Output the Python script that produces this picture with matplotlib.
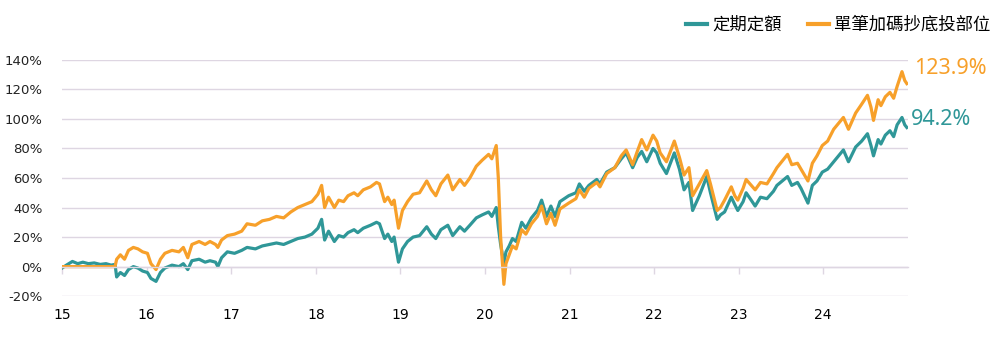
import matplotlib
matplotlib.use("Agg")
import matplotlib.pyplot as plt
import pandas as pd

dates = [
    "2015-01-01", "2015-01-20", "2015-02-15", "2015-03-10", "2015-04-01", "2015-04-25",
    "2015-05-20", "2015-06-15", "2015-07-10", "2015-08-01", "2015-08-18", "2015-08-25",
    "2015-09-10", "2015-09-28", "2015-10-15", "2015-11-05", "2015-11-25", "2015-12-15",
    "2016-01-05", "2016-01-20", "2016-02-11", "2016-03-01", "2016-03-20", "2016-04-20",
    "2016-05-20", "2016-06-08", "2016-06-27", "2016-07-15", "2016-08-15", "2016-09-10",
    "2016-10-01", "2016-10-25", "2016-11-04", "2016-11-20", "2016-12-15",
    "2017-01-15", "2017-02-15", "2017-03-10", "2017-04-15", "2017-05-15", "2017-06-15",
    "2017-07-15", "2017-08-15", "2017-09-15", "2017-10-15", "2017-11-15", "2017-12-15",
    "2018-01-10", "2018-01-26", "2018-02-08", "2018-02-25", "2018-03-22", "2018-04-10",
    "2018-05-01", "2018-05-20", "2018-06-15", "2018-07-01", "2018-07-25", "2018-08-25",
    "2018-09-20", "2018-10-03", "2018-10-25", "2018-11-08", "2018-11-25", "2018-12-05",
    "2018-12-24",
    "2019-01-10", "2019-02-01", "2019-02-25", "2019-03-25", "2019-04-25", "2019-05-15",
    "2019-06-03", "2019-06-25", "2019-07-25", "2019-08-15", "2019-09-15", "2019-10-05",
    "2019-10-28", "2019-11-25", "2019-12-20",
    "2020-01-17", "2020-01-31", "2020-02-19", "2020-02-28", "2020-03-09", "2020-03-23",
    "2020-04-01", "2020-04-15", "2020-04-29", "2020-05-15", "2020-06-08", "2020-06-26",
    "2020-07-20", "2020-08-15", "2020-09-02", "2020-09-23", "2020-10-12", "2020-10-30",
    "2020-11-20", "2020-12-28",
    "2021-01-28", "2021-02-12", "2021-03-05", "2021-03-25", "2021-04-28", "2021-05-12",
    "2021-06-10", "2021-07-15", "2021-08-12", "2021-09-02", "2021-09-30", "2021-10-20",
    "2021-11-08", "2021-11-30", "2021-12-27",
    "2022-01-12", "2022-01-27", "2022-02-23", "2022-03-29", "2022-04-20", "2022-05-10",
    "2022-05-31", "2022-06-16", "2022-07-15", "2022-08-16", "2022-09-01", "2022-09-30",
    "2022-10-14", "2022-11-01", "2022-11-30", "2022-12-15", "2022-12-28",
    "2023-01-20", "2023-02-02", "2023-02-24", "2023-03-13", "2023-04-05", "2023-05-03",
    "2023-05-31", "2023-06-15", "2023-07-31", "2023-08-18", "2023-09-12", "2023-09-27",
    "2023-10-27", "2023-11-15", "2023-12-05", "2023-12-28",
    "2024-01-20", "2024-02-15", "2024-03-28", "2024-04-19", "2024-05-20", "2024-06-15",
    "2024-07-10", "2024-07-25", "2024-08-05", "2024-08-25", "2024-09-06", "2024-09-25",
    "2024-10-15", "2024-10-31", "2024-11-15", "2024-12-06", "2024-12-18", "2024-12-27",
]

regular = [
    -1, 1, 3.5, 2, 3, 2,
    2.5, 1.5, 2, 1, 1.5, -7,
    -4, -6, -2, 0, -1, -3,
    -4, -8, -10, -4, -1, 1,
    0, 2, -2, 4, 5, 3,
    4, 3, 0, 6, 10,
    9, 11, 13, 12, 14, 15,
    16, 15, 17, 19, 20, 22,
    26, 32, 18, 24, 17, 21,
    20, 23, 25, 23, 26, 28,
    30, 29, 19, 22, 17, 20,
    3,
    12, 17, 20, 21, 27, 22,
    19, 25, 28, 21, 27, 24,
    28, 33, 35,
    37, 34, 40, 27, 15, 2,
    10, 14, 19, 17, 30, 26,
    33, 38, 45, 34, 41, 34,
    44, 48,
    50, 56, 51, 55, 59, 56,
    64, 67, 73, 77, 67, 74,
    78, 71, 80,
    77, 70, 63, 77, 66, 52,
    57, 38, 48, 61, 50, 32,
    35, 37, 47, 42, 38,
    44, 50, 45, 41, 47, 46,
    51, 55, 61, 55, 57, 53,
    43, 55, 58, 64,
    66, 71, 79, 71, 81, 85,
    90, 82, 75, 86, 83, 89,
    92, 88, 96, 101, 96, 94.2,
]

dip_buy = [
    0, 0, 0, 0, 0, 0,
    0, 0, 0, 0, 0, 5,
    8, 5, 11, 13, 12, 10,
    9, 2, -2, 5, 9, 11,
    10, 13, 6, 15, 17, 15,
    17, 15, 13, 18, 21,
    22, 24, 29, 28, 31, 32,
    34, 33, 37, 40, 42, 44,
    49, 55, 40, 47, 40, 45,
    44, 48, 50, 48, 52, 54,
    57, 56, 44, 47, 42, 45,
    26,
    38, 44, 49, 50, 58, 52,
    48, 56, 62, 52, 59, 55,
    60, 68, 72,
    76, 73, 82, 60, 20, -12,
    2, 8, 14, 12, 25, 22,
    29, 34, 41, 29, 36, 28,
    39, 43,
    46, 52, 47, 53, 57, 54,
    63, 67, 75, 79, 69, 78,
    86, 79, 89,
    85, 77, 71, 85, 74, 62,
    67, 48, 56, 65, 56, 38,
    40, 45, 54, 48, 45,
    53, 59, 55, 52, 57, 56,
    63, 67, 76, 69, 70, 66,
    58, 70, 75, 82,
    85, 93, 101, 93, 104, 110,
    116, 108, 99, 113, 109, 115,
    118, 114, 122, 132, 126, 123.9,
]

series_names = ["定期定額", "單筆加碼抄底投部位"]
year_labels = ["15", "16", "17", "18", "19", "20", "21", "22", "23", "24"]
y_ticks = [-20, 0, 20, 40, 60, 80, 100, 120, 140]

TEAL = "#2f9798"
ORANGE = "#f7a02a"
GRID = "#ded6e2"

plt.rcParams['font.family'] = ['DejaVu Sans']

dt = pd.to_datetime(dates)

fig = plt.figure(figsize=(10, 3.48), dpi=100)
ax = fig.add_axes([0.062, 0.149, 0.846, 0.679])

ax.plot(dt, regular, color=TEAL, lw=2.3, label=series_names[0], solid_joinstyle="round")
ax.plot(dt, dip_buy, color=ORANGE, lw=2.3, label=series_names[1], solid_joinstyle="round")

ax.set_ylim(-20, 140)
ax.set_xlim(pd.Timestamp("2015-01-01"), pd.Timestamp("2025-01-01"))
ax.set_yticks(y_ticks)
ax.set_yticklabels([f"{v}%" for v in y_ticks], fontsize=9.5, color="#222222")
ax.yaxis.grid(True, color=GRID, lw=1)
ax.set_axisbelow(True)
ax.tick_params(axis="y", length=0, pad=14)

year_ticks = [pd.Timestamp(f"20{y}-01-01") for y in year_labels]
ax.set_xticks(year_ticks)
ax.set_xticklabels(year_labels, fontsize=9.5, color="#222222")
for s in ["top", "right", "left"]:
    ax.spines[s].set_visible(False)
ax.spines["bottom"].set_position(("data", 0))
ax.spines["bottom"].set_color(GRID)
ax.spines["bottom"].set_linewidth(1)
ax.tick_params(axis="x", length=5, color=GRID, width=1, pad=25)

# end labels
ax.annotate("123.9%", xy=(dt[-1], dip_buy[-1]), xytext=(5, 11), textcoords="offset points",
            color=ORANGE, fontsize=15.5, family=["Noto Sans", "DejaVu Sans"], va="center", ha="left")
ax.annotate("94.2%", xy=(dt[-1], regular[-1]), xytext=(3, 6), textcoords="offset points",
            color=TEAL, fontsize=15.5, family=["Noto Sans", "DejaVu Sans"], va="center", ha="left")

leg = fig.legend(loc="upper right", bbox_to_anchor=(1.006, 1.0), ncol=2, frameon=False,
                 prop={"family": ["Noto Sans CJK TC", "DejaVu Sans"], "size": 12.5},
                 handlelength=1.2, handletextpad=0.3, columnspacing=1.5)
for line in leg.get_lines():
    line.set_linewidth(3)

fig.savefig("out.png", dpi=100)
